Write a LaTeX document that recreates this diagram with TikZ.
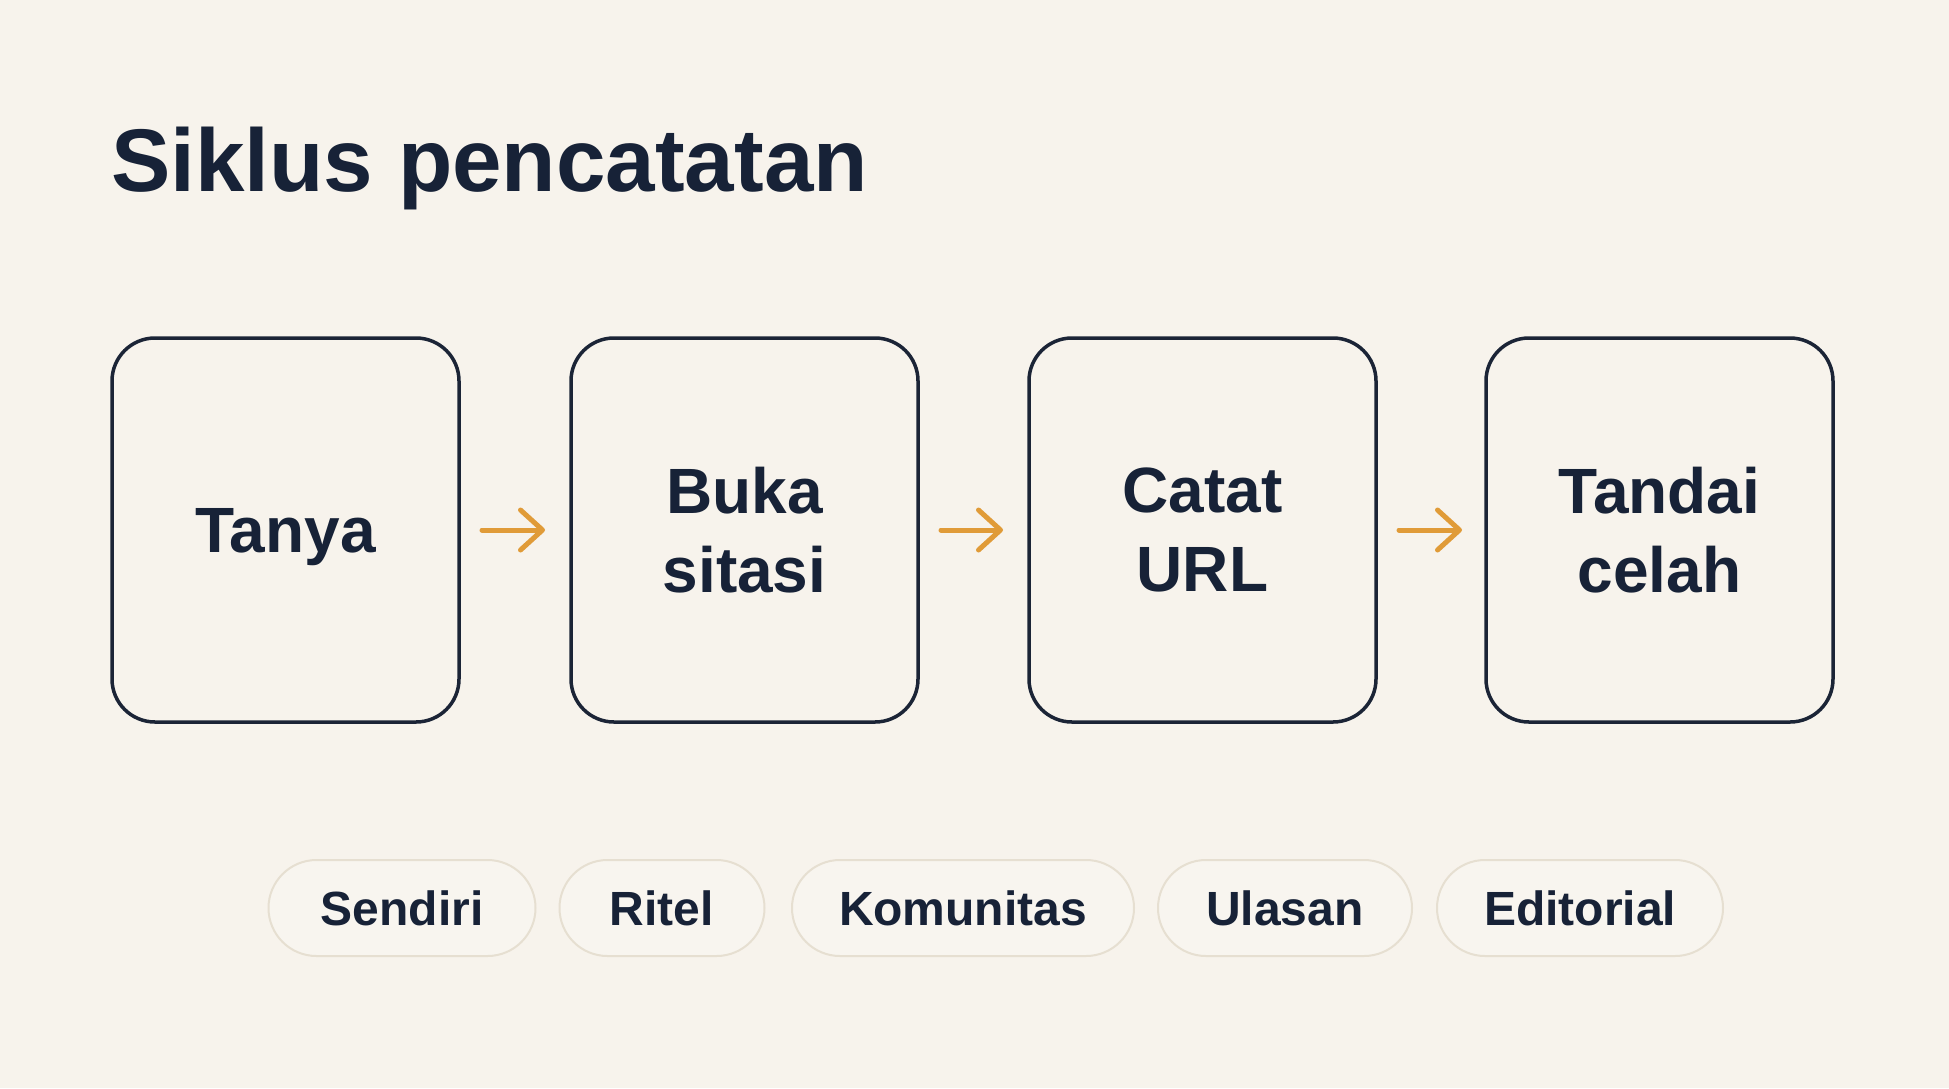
\documentclass[tikz,border=0pt]{standalone}
\usepackage{fontspec}
\setmainfont{Liberation Sans}
\usetikzlibrary{arrows.meta}
\definecolor{bgc}{HTML}{F7F3EC}
\definecolor{ink}{HTML}{172237}
\definecolor{boxline}{HTML}{1B2436}
\definecolor{orng}{HTML}{E09B38}
\definecolor{pillline}{HTML}{E6DFD1}
\definecolor{pillfill}{HTML}{F8F5EF}
\begin{document}
\begin{tikzpicture}[x=1pt,y=-1pt,
  stepbox/.style={draw=boxline, line width=3.5pt, rounded corners=43pt,
    minimum width=347pt, minimum height=384pt, outer sep=0pt, inner sep=0pt,
    align=center, text=ink, font=\bfseries\fontsize{64}{79}\selectfont},
  pill/.style={draw=pillline, fill=pillfill, line width=2pt, rounded corners=48pt,
    minimum height=96pt, outer sep=0pt, inner sep=0pt, text=ink,
    font=\bfseries\fontsize{48}{56}\selectfont},
  arr/.style={draw=orng, line width=5pt, line cap=round,
    -{Straight Barb[length=22pt,width=40pt,round]}},
  ttl/.style={anchor=base west, inner sep=0pt, text=ink,
    font=\bfseries\fontsize{89}{100}\selectfont}
]
\fill[bgc] (0,0) rectangle (1949,1088);
\useasboundingbox (0,0) rectangle (1949,1088);

\node[ttl] (title) at (111,191) {Siklus pencatatan};

\node[stepbox] (b1) at (285.5,530) {\raisebox{0pt}[\height][0pt]{Tanya}};
\node[stepbox] (b2) at (744.5,530) {\raisebox{3pt}{\parbox{300pt}{\centering Buka\\sitasi}}};
\node[stepbox] (b3) at (1202.5,530) {\raisebox{3pt}{\parbox{300pt}{\centering Catat\\URL}}};
\node[stepbox] (b4) at (1659.5,530) {\raisebox{3pt}{\parbox{300pt}{\centering Tandai\\celah}}};

\draw[arr, shorten <=23pt, shorten >=26pt] (b1.east) -- (b2.west);
\draw[arr, shorten <=23pt, shorten >=26pt] (b2.east) -- (b3.west);
\draw[arr, shorten <=23pt, shorten >=24pt] (b3.east) -- (b4.west);

\node[pill, minimum width=267pt] (p1) at (402,908) {Sendiri};
\node[pill, minimum width=205pt] (p2) at (662,908) {Ritel};
\node[pill, minimum width=342pt] (p3) at (963,908) {Komunitas};
\node[pill, minimum width=254pt] (p4) at (1285,908) {Ulasan};
\node[pill, minimum width=286pt] (p5) at (1580,908) {Editorial};
\end{tikzpicture}
\end{document}
